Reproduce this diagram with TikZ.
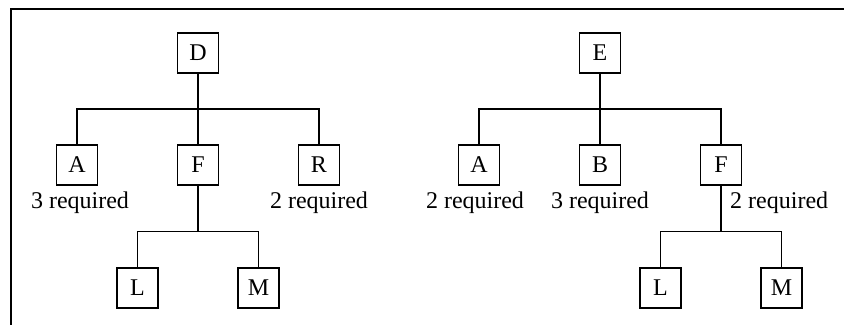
\documentclass[tikz,border=0pt]{standalone}
\usepackage{fontspec}
\setmainfont{Liberation Serif}
\usetikzlibrary{trees, positioning}

\begin{document}
\begin{tikzpicture}[
        part/.style    = {draw, line width=1.1pt, minimum width=41pt, minimum height=40pt,
                          inner sep=0pt, font=\fontsize{24}{27}\selectfont},
        qty/.style     = {inner sep=0pt, anchor=base, font=\fontsize{24}{27}\selectfont},
        level 1/.style = {sibling distance=121pt, level distance=112pt},
        level 2/.style = {sibling distance=121pt, level distance=123pt,
                          edge from parent path={(\tikzparentnode.south) -- ++(0,-46pt) -| (\tikzchildnode.north)}},
        edge from parent fork down,
        edge from parent/.style={draw, line width=1.1pt}]

    % page size and the frame on the top and left
    \useasboundingbox (0pt,0pt) rectangle (844pt,-325pt);
    \draw[line width=2pt] (844pt,-9pt) -| (10.5pt,-325pt);

    % product D
    \node[part] (d) at (198pt,-53pt) {D}
        child {node[part] (a1) {A}}
        child {node[part] (f1) {F}
            child {node[part] (l1) {L}}
            child {node[part] (m1) {M}}}
        child {node[part] (r1) {R}};

    % product E
    \node[part] (e) at (600pt,-53pt) {E}
        child {node[part] (a2) {A}}
        child {node[part] (b2) {B}}
        child {node[part] (f2) {F}
            child {node[part] (l2) {L}}
            child {node[part] (m2) {M}}};

    % quantities
    \node[qty] (qa1) at ([xshift=3pt, yshift=-23pt]a1.south) {3 required};
    \node[qty] (qr1) at ([yshift=-23pt]r1.south) {2 required};
    \node[qty] (qa2) at ([xshift=-4pt, yshift=-23pt]a2.south) {2 required};
    \node[qty] (qb2) at ([yshift=-23pt]b2.south) {3 required};
    \node[qty, anchor=base west] (qf2) at ([xshift=9pt, yshift=-23pt]f2.south) {2 required};

\end{tikzpicture}
\end{document}
